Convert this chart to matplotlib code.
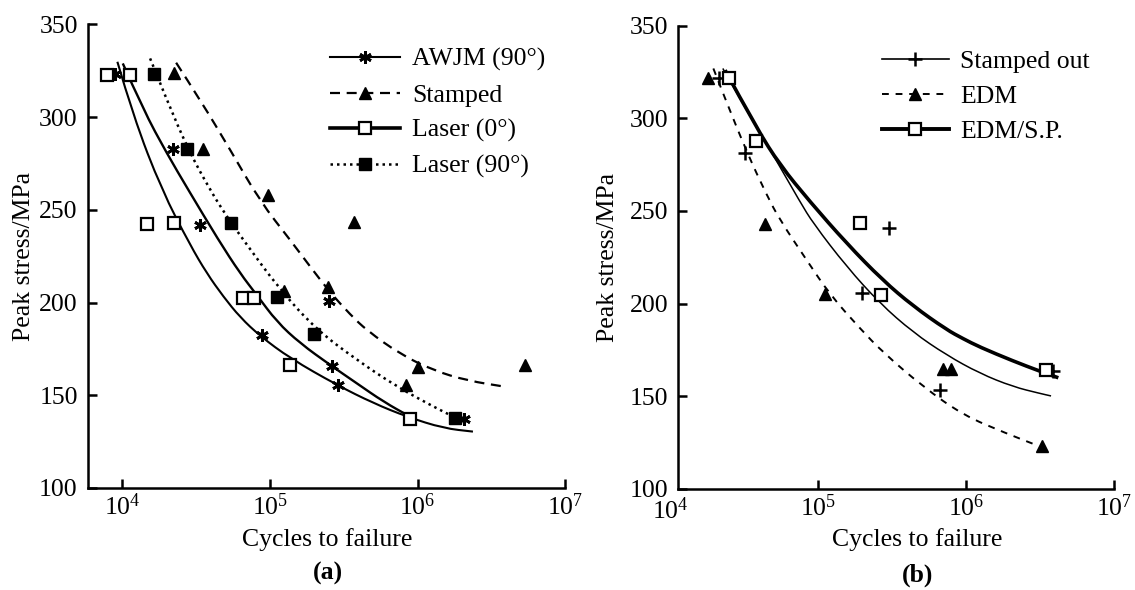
import matplotlib
matplotlib.use("Agg")
import matplotlib.pyplot as plt
from matplotlib.lines import Line2D
from matplotlib.patches import PathPatch
from matplotlib.path import Path

plt.rcParams["font.family"] = ["Liberation Serif", "DejaVu Serif"]
plt.rcParams["font.size"] = 18.5
plt.rcParams["mathtext.fontset"] = "custom"
plt.rcParams["mathtext.rm"] = "Liberation Serif"
plt.rcParams["mathtext.it"] = "Liberation Serif:italic"
plt.rcParams["mathtext.bf"] = "Liberation Serif:bold"

# ---- (a) cut edge comparison: test points (cycles, peak stress MPa) ----
awjm_n = [8970, 22200, 33700, 88500, 250000, 265000, 291000, 2.05e6]
awjm_s = [323, 283, 242, 182.5, 201, 166, 155.5, 137]
stamped_n = [22500, 35500, 96900, 124000, 249000, 372000, 837000, 998000, 5.36e6]
stamped_s = [323.5, 282.7, 258, 206.4, 208.2, 243.6, 155.5, 165.4, 166.3]
laser0_n = [7950, 11300, 14800, 22500, 65600, 78300, 137000, 891000]
laser0_s = [322.6, 322.6, 242.3, 242.7, 202.6, 202.6, 166.3, 137]
laser90_n = [16500, 27700, 54700, 112000, 200000, 1.8e6]
laser90_s = [323.2, 282.7, 242.7, 203.1, 182.9, 137.6]

# trend curves
awjm_fit_n = [9290, 11930, 18560, 28870, 37460, 48520, 62950, 85960, 137300,
              284200, 502800, 846600, 1.497e6, 2.366e6]
awjm_fit_s = [329.8, 300.2, 260.6, 231.0, 215.7, 203.1, 192.0, 181.9, 169.9,
              155.5, 145.7, 138.4, 132.2, 130.4]
laser0_fit_n = [10110, 13940, 20080, 28120, 44870, 62920, 81660, 111500,
                160300, 255900, 388000, 587500, 891000]
laser0_fit_s = [328.9, 303.8, 280.4, 260.6, 233.7, 215.7, 204.0, 189.6,
                178.0, 166.3, 156.4, 146.5, 138.4]
laser90_fit_n = [15470, 20070, 28120, 39450, 51170, 66230, 117400, 208000,
                 387900, 724000, 1.283e6, 1.75e6]
laser90_fit_s = [331.6, 309.2, 282.2, 260.6, 246.3, 233.7, 206.7, 185.2,
                 169.0, 154.6, 143.8, 138.4]
stamped_fit_n = [23210, 33740, 53850, 85960, 137300, 189500, 256000, 349800,
                 453800, 767200, 1.281e6, 2.157e6, 4.043e6]
stamped_fit_s = [329.3, 309.3, 282.4, 254.5, 233.7, 218.8, 205.4, 193.5,
                 184.9, 172.0, 163.4, 157.9, 154.4]

# ---- (b) EDM and shot peening ----
stamped_out_n = [21400, 31840, 195900, 300600, 662000, 3.84e6]
stamped_out_s = [321.5, 281.5, 205.5, 241, 153.5, 163.5]
edm_n = [17830, 43800, 110600, 697000, 794000, 3.24e6]
edm_s = [322, 243, 205, 164.5, 164.5, 123]
edmsp_n = [24950, 37840, 190600, 267000, 3.47e6]
edmsp_s = [322, 287.5, 243.5, 204.5, 164]

stamped_out_fit_n = [22540, 36220, 49520, 74970, 92260, 155300, 260300,
                     437100, 734600, 1.233e6, 2.07e6, 3.14e6, 3.75e6]
stamped_out_fit_s = [326.9, 298.1, 280.1, 255.0, 243.3, 219.9, 200.2,
                     184.5, 172.3, 162.4, 155.2, 151.6, 150.2]
edmsp_fit_n = [23340, 38190, 54930, 87640, 155300, 271600, 437200, 735100,
               952500, 1.233e6, 2.07e6, 3.14e6, 4.2e6]
edmsp_fit_s = [326.0, 294.6, 274.8, 255.0, 232.5, 212.7, 198.7, 186.0,
               181.1, 176.6, 169.1, 163.6, 160.0]
edm_fit_n = [19450, 23340, 32710, 44660, 54930, 83220, 119600, 190600,
             274200, 510500, 950600, 1.87e6, 2.98e6]
edm_fit_s = [326.9, 310.7, 281.9, 258.6, 245.1, 223.5, 204.9, 186.7,
             173.6, 155.2, 139.9, 130.0, 123.7]

y_ticks = [100, 150, 200, 250, 300, 350]
x_ticks = [1e4, 1e5, 1e6, 1e7]

asterisk = (6, 2, 0)
dotted = (0, (1, 1.6))
dash_a = (0, (4.5, 3))
dash_b = (0, (3.5, 3.5))


def smooth_curve(ax, xs, ys, **kw):
    """Draw a curve through (xs, ys) as chained quadratic Beziers.

    Each listed point acts as a control point and segments join at the
    midpoints (geometric mean in x, since the x axis is logarithmic).
    """
    verts = [(xs[0], ys[0])]
    codes = [Path.MOVETO]
    for i in range(1, len(xs) - 1):
        mx = (xs[i] * xs[i + 1]) ** 0.5
        my = 0.5 * (ys[i] + ys[i + 1])
        verts += [(xs[i], ys[i]), (mx, my)]
        codes += [Path.CURVE3, Path.CURVE3]
    verts.append((xs[-1], ys[-1]))
    codes.append(Path.LINETO)
    patch = PathPatch(Path(verts, codes), fill=False, edgecolor="black",
                      capstyle="butt", **kw)
    ax.add_patch(patch)


def style_axes(ax, xlim, ticks):
    ax.set_xscale("log")
    ax.set_xlim(*xlim)
    ax.set_ylim(100, 350)
    ax.set_xticks(ticks)
    ax.set_yticks(y_ticks)
    ax.minorticks_off()
    for side in ("top", "right"):
        ax.spines[side].set_visible(False)
    for side in ("left", "bottom"):
        ax.spines[side].set_linewidth(1.8)
    ax.tick_params(direction="in", length=6.5, width=1.8)
    ax.tick_params(axis="y", pad=7)
    ax.tick_params(axis="x", pad=4)
    ax.set_ylabel("Peak stress/MPa")
    ax.set_xlabel("Cycles to failure")
    ax.xaxis.label.set_va("center")
    ax.yaxis.label.set_va("center")


fig = plt.figure(figsize=(11.35, 5.9), dpi=100)

# ---------------- panel (a) ----------------
ax1 = fig.add_axes([0.0771, 0.1729, 0.4211, 0.7859])
style_axes(ax1, (10 ** 3.766, 1e7), x_ticks)

smooth_curve(ax1, awjm_fit_n, awjm_fit_s, lw=1.5)
smooth_curve(ax1, laser0_fit_n, laser0_fit_s, lw=1.7)
smooth_curve(ax1, laser90_fit_n, laser90_fit_s, lw=1.8, linestyle=dotted)
smooth_curve(ax1, stamped_fit_n, stamped_fit_s, lw=1.6, linestyle=dash_a)

ax1.plot(awjm_n, awjm_s, ls="none", marker=asterisk, ms=9, mew=2, color="black")
ax1.plot(stamped_n, stamped_s, ls="none", marker="^", ms=8.5, color="black")
ax1.plot(laser0_n, laser0_s, ls="none", marker="s", ms=9, mew=1.6,
         mfc="white", mec="black")
ax1.plot(laser90_n, laser90_s, ls="none", marker="s", ms=8.5, color="black")

handles_a = [
    Line2D([], [], color="black", lw=1.5, marker=asterisk, ms=9, mew=2),
    Line2D([], [], color="black", lw=1.6, ls=dash_a, marker="^", ms=8.5),
    Line2D([], [], color="black", lw=2.6, marker="s", ms=9, mew=1.6,
           mfc="white", mec="black"),
    Line2D([], [], color="black", lw=1.8, ls=dotted, marker="s", ms=8.5),
]
labels_a = ["AWJM (90°)", "Stamped", "Laser (0°)", "Laser (90°)"]
ax1.legend(handles_a, labels_a, loc="upper left", frameon=False,
           bbox_to_anchor=(330 / 1135, 1 - 48 / 590),
           bbox_transform=fig.transFigure, borderpad=0, borderaxespad=0,
           handlelength=2.72, handletextpad=0.48, labelspacing=0.48,
           numpoints=1)

ax1.xaxis.set_label_coords(0.501, -0.112)
ax1.yaxis.set_label_coords(-0.133, 0.5)

# ---------------- panel (b) ----------------
ax2 = fig.add_axes([0.5974, 0.1712, 0.3841, 0.7853])
style_axes(ax2, (10 ** 4.05, 1e7), x_ticks[1:])

smooth_curve(ax2, stamped_out_fit_n, stamped_out_fit_s, lw=1.1)
smooth_curve(ax2, edmsp_fit_n, edmsp_fit_s, lw=2.6)
smooth_curve(ax2, edm_fit_n, edm_fit_s, lw=1.4, linestyle=dash_b)

ax2.plot(stamped_out_n, stamped_out_s, ls="none", marker="+", ms=10, mew=1.8,
         color="black")
ax2.plot(edm_n, edm_s, ls="none", marker="^", ms=8.5, color="black")
ax2.plot(edmsp_n, edmsp_s, ls="none", marker="s", ms=9, mew=1.6,
         mfc="white", mec="black")

# 10^4 sits just left of where this axis starts
ax2.annotate(r"$10^{4}$", xy=(1e4, 0), xycoords=("data", "axes fraction"),
             xytext=(0, -6), textcoords="offset points", ha="center",
             va="top", annotation_clip=False)

handles_b = [
    Line2D([], [], color="black", lw=1.2, marker="+", ms=10, mew=1.8),
    Line2D([], [], color="black", lw=1.4, ls=dash_b, marker="^", ms=8.5),
    Line2D([], [], color="black", lw=2.8, marker="s", ms=9, mew=1.6,
           mfc="white", mec="black"),
]
labels_b = ["Stamped out", "EDM", "EDM/S.P."]
ax2.legend(handles_b, labels_b, loc="upper left", frameon=False,
           bbox_to_anchor=(882 / 1135, 1 - 50 / 590),
           bbox_transform=fig.transFigure, borderpad=0, borderaxespad=0,
           handlelength=2.6, handletextpad=0.45, labelspacing=0.46,
           numpoints=1)

ax2.xaxis.set_label_coords(0.549, -0.110)
ax2.yaxis.set_label_coords(-0.161, 0.5)

fig.text(328 / 1135, 1 - 573 / 590, "(a)", weight="bold", ha="center",
         va="center")
fig.text(918 / 1135, 1 - 575 / 590, "(b)", weight="bold", ha="center",
         va="center")

fig.savefig("out.png", dpi=100)
